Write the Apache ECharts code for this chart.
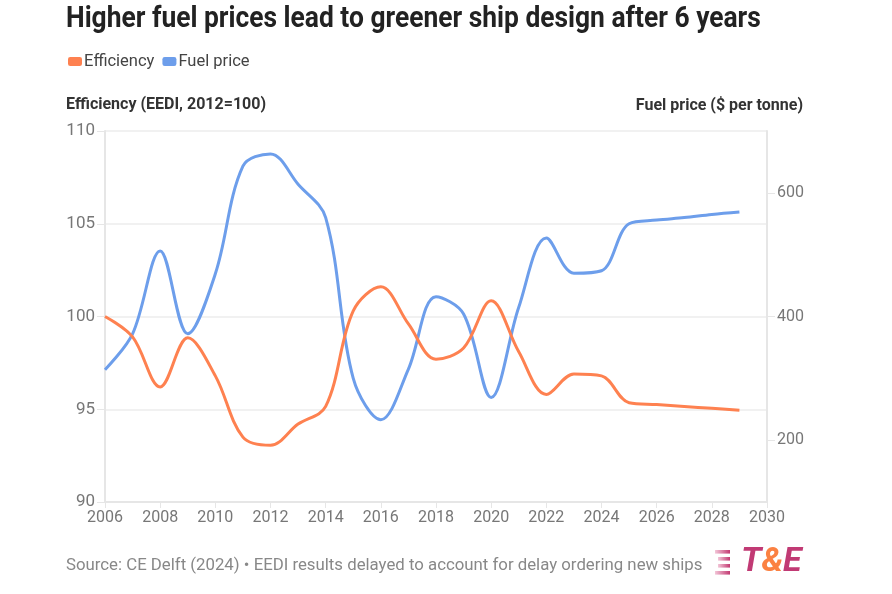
<!DOCTYPE html>
<html>
<head>
<meta charset="utf-8">
<script src="https://cdn.jsdelivr.net/npm/echarts@6/dist/echarts.min.js"></script>
<style>
html,body{margin:0;padding:0;background:#fff;}
#chart{width:892px;height:594px;}
</style>
</head>
<body>
<div id="chart"></div>
<script>
const years = [2006,2007,2008,2009,2010,2011,2012,2013,2014,2015,2016,2017,2018,2019,2020,2021,2022,2023,2024,2025,2026,2027,2028,2029];
const efficiency = [100.0,98.9,96.2,98.85,96.8,93.5,93.06,94.2,95.15,100.3,101.6,99.6,97.7,98.3,100.85,98.1,95.8,96.9,96.8,95.35,95.25,95.15,95.05,94.95];
const fuelPrice = [314,372,506,372,469,643,663,614,560,300,233,315,432,404,269,415,527,470,474,550,556,560,565,569];
const leftTicks = [90,95,100,105,110];
const rightTicks = [200,400,600];

const ORANGE = '#fe8150';
const BLUE = '#6d9eeb';
const FONT = 'Roboto, "Noto Sans", sans-serif';

function stripe(x, y, w){
  return {type:'rect',shape:{x:x,y:y,width:w,height:3.6},style:{fill:new echarts.graphic.LinearGradient(0,0,1,0,[{offset:0,color:'#f3c6d8'},{offset:1,color:'#c23a72'}])}};
}

const chart = echarts.init(document.getElementById('chart'));
chart.setOption({
  animation:false,
  textStyle:{fontFamily:FONT},
  legend:{
    left:63, top:48,
    icon:'roundRect', itemWidth:14, itemHeight:9, itemGap:8,
    textStyle:{fontFamily:FONT,fontSize:16.5,color:'#444',padding:[0,0,0,-3]},
    data:['Efficiency','Fuel price']
  },
  grid:{left:105,right:125,top:131,bottom:92},
  xAxis:{
    type:'value', min:2006, max:2030, interval:2,
    axisLine:{show:true,lineStyle:{color:'#e6e6e6',width:2}},
    axisTick:{show:true,length:6,lineStyle:{color:'#e6e6e6'}},
    splitLine:{show:false},
    axisLabel:{formatter:v=>String(v),fontSize:16,color:'#777',margin:8,fontFamily:FONT}
  },
  yAxis:[{
    type:'value', min:90, max:110, interval:5, position:'left',
    axisLine:{show:true,lineStyle:{color:'#e6e6e6',width:2}},
    axisTick:{show:true,length:8,lineStyle:{color:'#e6e6e6'}},
    splitLine:{show:true,lineStyle:{color:'#ececec',width:1.5}},
    axisLabel:{customValues:leftTicks,fontSize:17,color:'#777',margin:10,fontFamily:FONT}
  },{
    type:'value', min:100, max:700, interval:100, position:'right',
    axisLine:{show:true,lineStyle:{color:'#e6e6e6',width:2}},
    axisTick:{show:true,customValues:rightTicks,length:8,lineStyle:{color:'#e6e6e6'}},
    splitLine:{show:false},
    axisLabel:{customValues:rightTicks,fontSize:16,color:'#777',margin:10,fontFamily:FONT}
  }],
  series:[{
    name:'Efficiency', type:'line', yAxisIndex:0, smooth:0.35, showSymbol:false,
    itemStyle:{color:ORANGE}, lineStyle:{color:ORANGE,width:3},
    data:years.map((y,i)=>[y,efficiency[i]]), z:3
  },{
    name:'Fuel price', type:'line', yAxisIndex:1, smooth:0.35, showSymbol:false,
    itemStyle:{color:BLUE}, lineStyle:{color:BLUE,width:3},
    data:years.map((y,i)=>[y,fuelPrice[i]]), z:2
  }],
  graphic:[
    {type:'text',x:66,y:5,scaleX:0.91,style:{text:'Higher fuel prices lead to greener ship design after 6 years',font:'bold 29px '+FONT,fill:'#222'}},
    {type:'text',left:66,top:97,style:{text:'Efficiency (EEDI, 2012=100)',font:'bold 16px '+FONT,fill:'#333'}},
    {type:'text',right:89,top:98,style:{text:'Fuel price ($ per tonne)',font:'bold 16px '+FONT,fill:'#333'}},
    {type:'text',left:66,top:557,style:{text:'Source: CE Delft (2024) • EEDI results delayed to account for delay ordering new ships',font:'16.8px '+FONT,fill:'#888'}},
    {type:'group',left:715,top:550,children:[
      stripe(0,0,15), stripe(3,7,12), stripe(3,14,12), stripe(0,21,15)
    ]},
    {type:'text',left:741,top:545,style:{
      text:'{m|T}{o|&}{m|E}',
      rich:{
        m:{font:'italic bold 34px '+FONT,fill:'#c13a74'},
        o:{font:'italic bold 34px '+FONT,fill:'#fb8142'}
      }
    }}
  ]
});
</script>
</body>
</html>
